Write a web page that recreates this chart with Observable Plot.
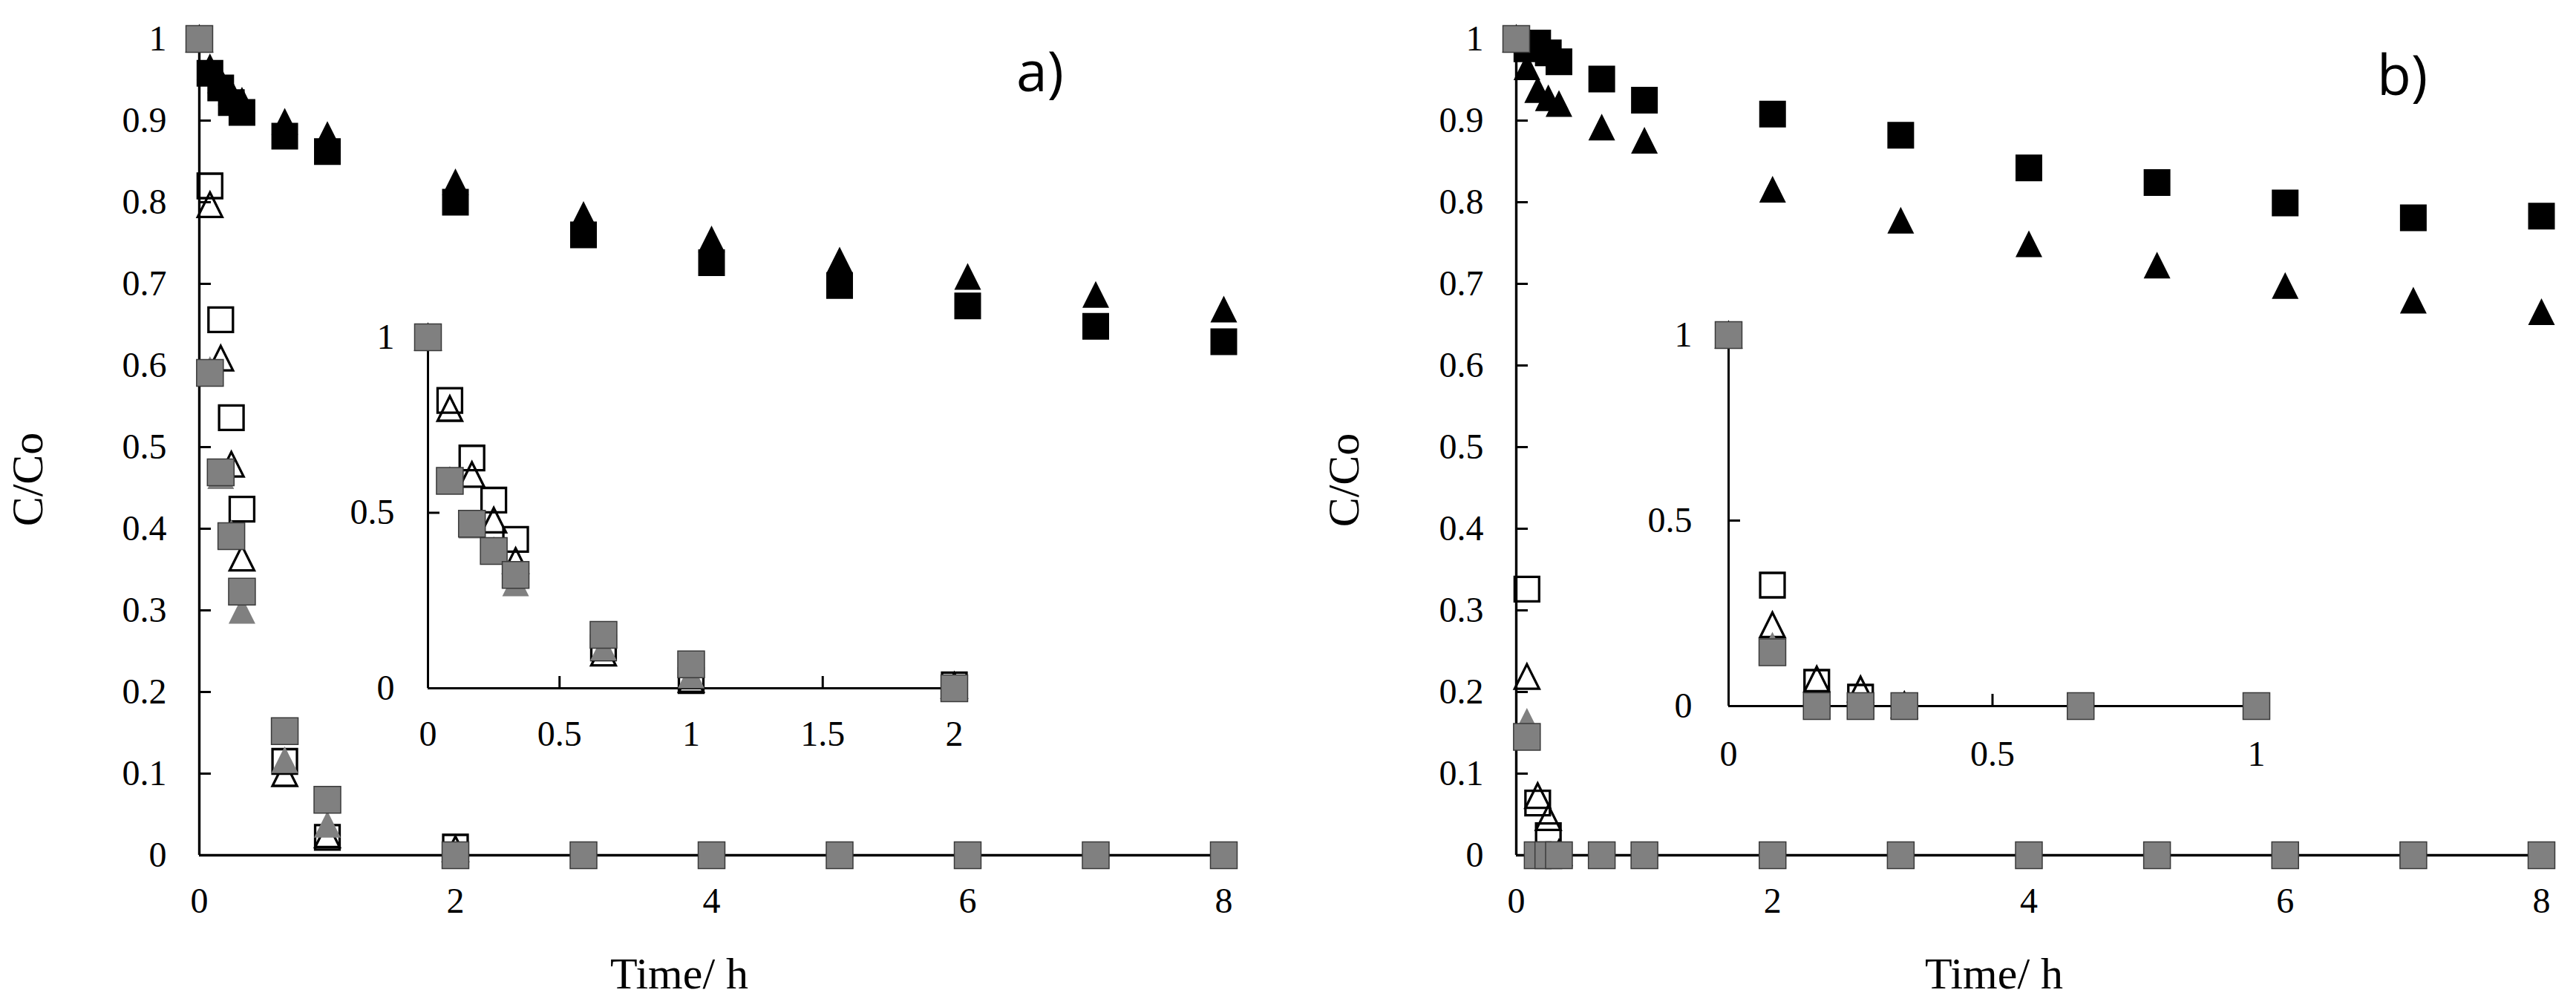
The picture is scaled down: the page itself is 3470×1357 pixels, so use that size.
<!DOCTYPE html>
<html>
<head>
<meta charset="utf-8">
<script src="https://cdn.jsdelivr.net/npm/d3@7"></script>
<script src="https://cdn.jsdelivr.net/npm/@observablehq/plot@0.6"></script>
<style>
html, body { margin: 0; padding: 0; background: #ffffff; }
#wrap { position: relative; width: 3470px; height: 1357px; overflow: hidden; background: #ffffff; }
#wrap > svg { position: absolute; }
</style>
</head>
<body>
<div id="wrap"></div>
<script>
// ---------- data ----------
const times = [0, 0.083, 0.167, 0.25, 0.333, 0.667, 1, 2, 3, 4, 5, 6, 7, 8];

// panel a)
const aBlackSquares   = [1, 0.958, 0.94, 0.922, 0.91, 0.881, 0.862, 0.80, 0.76, 0.726, 0.698, 0.673, 0.648, 0.629];
const aBlackTriangles = [1, 0.966, 0.95, 0.935, 0.925, 0.899, 0.883, 0.825, 0.785, 0.755, 0.729, 0.709, 0.687, 0.669];
const aOpenSquares    = [1, 0.82, 0.656, 0.536, 0.424, 0.115, 0.022, 0.01, null, null, null, null, null, null];
const aOpenTriangles  = [1, 0.797, 0.609, 0.479, 0.364, 0.10, 0.025, 0.008, null, null, null, null, null, null];
const aGreySquares    = [1, 0.591, 0.469, 0.391, 0.323, 0.152, 0.068, 0, 0, 0, 0, 0, 0, 0];
const aGreyTriangles  = [1, 0.595, 0.465, 0.395, 0.30, 0.117, 0.038, 0, 0, 0, 0, 0, 0, 0];

// panel b)
const bBlackSquares   = [1, 0.988, 0.995, 0.983, 0.972, 0.951, 0.925, 0.908, 0.882, 0.842, 0.824, 0.799, 0.781, 0.783];
const bBlackTriangles = [1, 0.966, 0.938, 0.928, 0.921, 0.892, 0.876, 0.816, 0.778, 0.749, 0.723, 0.698, 0.68, 0.666];
const bOpenSquares    = [1, 0.326, 0.064, 0.024, 0, null, null, null, null, null, null, null, null, null];
const bOpenTriangles  = [1, 0.219, 0.073, 0.046, 0.003, null, null, null, null, null, null, null, null, null];
const bGreySquares    = [1, 0.145, 0, 0, 0, 0, 0, 0, 0, 0, 0, 0, 0, 0];
const bGreyTriangles  = [1, 0.164, 0, 0, 0, 0, 0, 0, 0, 0, 0, 0, 0, 0];

// ticks
const mainYTicks = [0, 0.1, 0.2, 0.3, 0.4, 0.5, 0.6, 0.7, 0.8, 0.9, 1];
const mainXTicks = [0, 2, 4, 6, 8];
const insetAXTicks = [0, 0.5, 1, 1.5, 2];
const insetBXTicks = [0, 0.5, 1];
const insetYTicks = [0, 0.5, 1];

// texts
const yLabel = "C/Co";
const xLabel = "Time/ h";
const panelTags = ["a)", "b)"];

// ---------- helpers ----------
const toRows = vals => times.map((t, i) => ({t, v: vals[i]})).filter(d => d.v != null);
const fmt = d => d3.format("~g")(d);
const SERIF = "'Liberation Serif', 'DejaVu Serif', serif";

const squareSym = {draw(ctx, size) { const h = Math.sqrt(size) / 2; ctx.moveTo(-h, -h); ctx.lineTo(h, -h); ctx.lineTo(h, h); ctx.lineTo(-h, h); ctx.closePath(); }};
const triSym = {draw(ctx, size) { const h = Math.sqrt(size) / 2; ctx.moveTo(0, -h); ctx.lineTo(h, h); ctx.lineTo(-h, h); ctx.closePath(); }};

const R = 20.3;      // filled markers ~36px
const RO = 18.6;     // open markers (plus stroke)
const GREY = "#808080";

function seriesMarks(S, maxT, withBlack) {
  const f = vals => toRows(vals).filter(d => d.t <= maxT + 1e-9);
  const marks = [];
  if (withBlack) {
    marks.push(Plot.dot(f(S.blackSq), {x: "t", y: "v", symbol: squareSym, r: R, fill: "black", stroke: "none"}));
    marks.push(Plot.dot(f(S.blackTri), {x: "t", y: "v", symbol: triSym, r: R, fill: "black", stroke: "none"}));
  }
  marks.push(Plot.dot(f(S.openSq), {x: "t", y: "v", symbol: squareSym, r: RO, fill: "none", stroke: "black", strokeWidth: 3.3}));
  marks.push(Plot.dot(f(S.openTri), {x: "t", y: "v", symbol: triSym, r: RO, fill: "none", stroke: "black", strokeWidth: 3.3}));
  marks.push(Plot.dot(f(S.greyTri), {x: "t", y: "v", symbol: triSym, r: R, fill: GREY, stroke: "none"}));
  marks.push(Plot.dot(f(S.greySq), {x: "t", y: "v", symbol: squareSym, r: R, fill: GREY, stroke: "#3a3a3a", strokeWidth: 1.5}));
  return marks;
}

const plotStyle = {fontFamily: SERIF, fontSize: "48px", background: "transparent", overflow: "visible", color: "black"};

function makePlot({S, xDomain, xTicks, yTicks, plotW, plotH, mL, mT, withBlack, yPad, xPad, lineW}) {
  const mR = 60, mB = 120;
  const svg = Plot.plot({
    width: mL + plotW + mR,
    height: mT + plotH + mB,
    marginLeft: mL, marginRight: mR, marginTop: mT, marginBottom: mB,
    x: {domain: xDomain},
    y: {domain: [0, 1]},
    style: plotStyle,
    marks: [
      Plot.axisY({ticks: yTicks, tickSize: -16, tickPadding: yPad, strokeWidth: 3, tickFormat: fmt, label: null, fontSize: 48, fontFamily: SERIF}),
      Plot.axisX({ticks: xTicks, tickSize: -16, tickPadding: xPad, strokeWidth: 3, tickFormat: fmt, label: null, fontSize: 48, fontFamily: SERIF}),
      Plot.ruleX([xDomain[0]], {stroke: "black", strokeWidth: lineW}),
      Plot.ruleY([0], {stroke: "black", strokeWidth: lineW}),
      ...seriesMarks(S, xDomain[1], withBlack)
    ]
  });
  svg.setAttribute("font-family", SERIF);
  svg.style.fontFamily = SERIF;
  svg.style.background = "transparent";
  svg.style.overflow = "visible";
  svg.querySelectorAll("text").forEach(t => t.setAttribute("font-family", SERIF));
  return svg;
}

const SA = {blackSq: aBlackSquares, blackTri: aBlackTriangles, openSq: aOpenSquares, openTri: aOpenTriangles, greySq: aGreySquares, greyTri: aGreyTriangles};
const SB = {blackSq: bBlackSquares, blackTri: bBlackTriangles, openSq: bOpenSquares, openTri: bOpenTriangles, greySq: bGreySquares, greyTri: bGreyTriangles};

const wrap = document.getElementById("wrap");
function place(svg, left, top) { svg.style.position = "absolute"; svg.style.left = left + "px"; svg.style.top = top + "px"; wrap.appendChild(svg); }

// main panels
place(makePlot({S: SA, xDomain: [0, 8], xTicks: mainXTicks, yTicks: mainYTicks, plotW: 1380, plotH: 1100, mL: 268, mT: 52, withBlack: true, yPad: 60, xPad: 59, lineW: 3.4}), 0, 0);
place(makePlot({S: SB, xDomain: [0, 8], xTicks: mainXTicks, yTicks: mainYTicks, plotW: 1381, plotH: 1100, mL: 268, mT: 52, withBlack: true, yPad: 60, xPad: 59, lineW: 3.4}), 1773.6, 0);

// insets
place(makePlot({S: SA, xDomain: [0, 2], xTicks: insetAXTicks, yTicks: insetYTicks, plotW: 709, plotH: 473, mL: 100, mT: 40, withBlack: false, yPad: 61, xPad: 59, lineW: 3}), 476, 414);
place(makePlot({S: SB, xDomain: [0, 1], xTicks: insetBXTicks, yTicks: insetYTicks, plotW: 711, plotH: 500, mL: 100, mT: 40, withBlack: false, yPad: 65, xPad: 62, lineW: 3}), 2228, 410.5);

// ---------- text overlay ----------
const ov = d3.select(wrap).append("svg")
  .attr("width", 3470).attr("height", 1357)
  .style("position", "absolute").style("left", "0px").style("top", "0px").style("pointer-events", "none");

[[57, 646], [1830, 647]].forEach(([x, y]) => {
  ov.append("text").attr("transform", `translate(${x},${y}) rotate(-90)`)
    .attr("text-anchor", "middle").attr("font-family", SERIF).attr("font-size", 60).attr("fill", "black").text(yLabel);
});
[[915, 1332], [2686, 1332]].forEach(([x, y]) => {
  ov.append("text").attr("x", x).attr("y", y)
    .attr("text-anchor", "middle").attr("font-family", SERIF).attr("font-size", 60).attr("fill", "black").text(xLabel);
});
[[1369, 123], [3202, 128]].forEach(([x, y], i) => {
  ov.append("text").attr("x", x).attr("y", y)
    .attr("font-family", "'Open Sans', 'Liberation Sans', sans-serif").attr("font-size", 75).attr("fill", "black").text(panelTags[i]);
});
</script>
</body>
</html>
